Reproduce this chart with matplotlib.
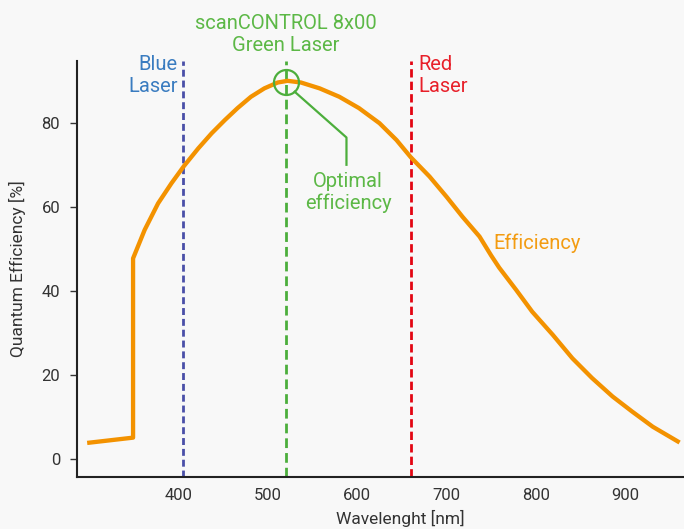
import numpy as np
import matplotlib
matplotlib.use('Agg')
import matplotlib.pyplot as plt

# Quantum efficiency curve
wavelength = [300, 349, 349, 362, 377, 392, 406, 422, 437, 452, 466, 481, 496, 511,
              522, 537, 558, 580, 602, 625, 644, 660, 681, 700, 718, 737, 750, 759,
              778, 796, 819, 841, 863, 886, 908, 931, 959]
efficiency = [3.8, 5.0, 47.7, 54.5, 60.8, 65.6, 69.7, 73.9, 77.5, 80.7, 83.5, 86.2, 88.2, 89.6,
              90.0, 89.6, 88.2, 86.2, 83.5, 79.9, 75.9, 71.8, 67.2, 62.4, 57.6, 52.9, 48.4, 45.5,
              40.2, 35.0, 29.5, 23.9, 19.2, 14.8, 11.2, 7.6, 4.1]

# Lasers
laser_nm = [405, 520, 660]
laser_colors = ['#4a4fa8', '#4cae3c', '#e30613']
laser_dash = [(2.5, 1.4), (3.5, 1.8), (3.0, 1.5)]

# Optimum marker and leader line
optimum = (520, 89.8)
leader_x = [530, 588, 588]
leader_y = [87.4, 76.5, 70.0]

xticks = [400, 500, 600, 700, 800, 900]
yticks = [0, 20, 40, 60, 80]

bg = '#f8f8f8'
plt.rcParams['font.family'] = ['Roboto', 'DejaVu Sans']

fig = plt.figure(figsize=(6.84, 5.29), dpi=100, facecolor=bg)
ax = fig.add_axes([0.1123, 0.0989, 0.8877, 0.7864])
ax.set_facecolor(bg)

for nm, c, d in zip(laser_nm, laser_colors, laser_dash):
    ax.plot([nm, nm], [-4.3, 94.8], color=c, lw=2.0, ls=(0, d), zorder=1)

ax.plot(wavelength, efficiency, color='#f39200', lw=3.1, solid_joinstyle='round', zorder=2)

ax.plot(leader_x, leader_y, color='#4cae3c', lw=1.6, zorder=3)
ax.plot([optimum[0]], [optimum[1]], marker='o', ms=18, mfc='none', mec='#4cae3c', mew=1.6, zorder=3)

# text labels
lbl = dict(fontsize=14.5, va='center', linespacing=1.2)
ax.text(520, 101.0, 'scanCONTROL 8x00\nGreen Laser', color='#5cb846', ha='center', **lbl)
ax.text(399, 91.3, 'Blue\nLaser', color='#3a7cc0', ha='right', **lbl)
ax.text(669, 91.3, 'Red\nLaser', color='#e8202a', ha='left', **lbl)
ax.text(590, 63.4, 'Optimal\nefficiency', color='#5cb846', ha='center', **lbl)
ax.text(752, 51.4, 'Efficiency', color='#f39c12', ha='left', **lbl)

ax.set_xlim(286, 966)
ax.set_ylim(-4.3, 94.8)
ax.set_xticks(xticks)
ax.set_yticks(yticks)
ax.tick_params(axis='x', length=0, pad=8.5, labelsize=12, labelcolor='#333333')
ax.tick_params(axis='y', length=5, width=1, pad=7, labelsize=12, labelcolor='#333333', color='#333333')

for s in ['top', 'right']:
    ax.spines[s].set_visible(False)
for s in ['left', 'bottom']:
    ax.spines[s].set_linewidth(1.5)
    ax.spines[s].set_color('#222222')

ax.set_xlabel('Wavelenght [nm]', fontsize=12.5, color='#333333')
ax.xaxis.set_label_coords(0.532, -0.08)
ax.set_ylabel('Quantum Efficiency [%]', fontsize=12.5, color='#333333')
ax.yaxis.set_label_coords(-0.083, 0.5)

fig.savefig('out.png', dpi=100, facecolor=bg)
